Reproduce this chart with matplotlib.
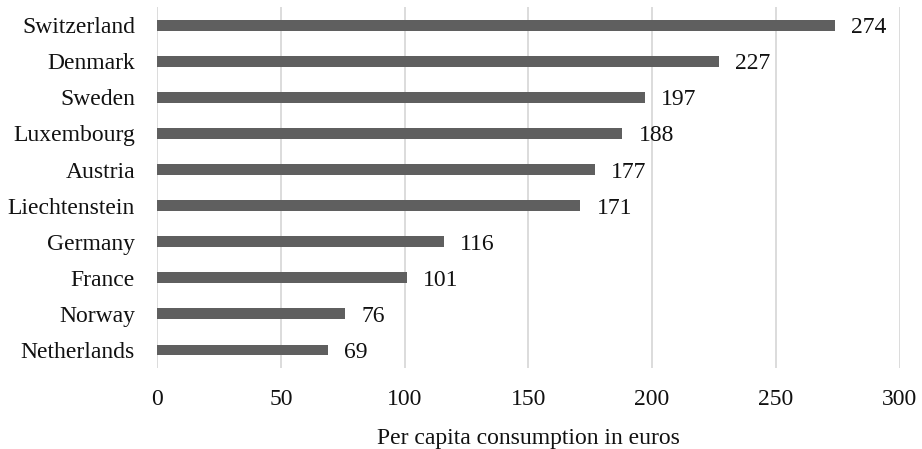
import matplotlib
matplotlib.use("Agg")
import matplotlib.pyplot as plt

countries = ["Switzerland", "Denmark", "Sweden", "Luxembourg", "Austria",
             "Liechtenstein", "Germany", "France", "Norway", "Netherlands"]
consumption = [274, 227, 197, 188, 177, 171, 116, 101, 76, 69]
x_ticks = [0, 50, 100, 150, 200, 250, 300]

plt.rcParams["font.family"] = ["Liberation Serif", "DejaVu Serif"]
FS = 17

fig = plt.figure(figsize=(9.22, 4.49), dpi=100)
ax = fig.add_axes([0.1706, 0.1804, 0.805, 0.8036])

pos = list(range(len(countries)))
ax.barh(pos, consumption, height=0.3, color="#5f5f5f", zorder=3)

for y, v in zip(pos, consumption):
    ax.text(v + 6.5, y, f"{v}", va="center_baseline", ha="left", fontsize=FS,
            color="#111111")

ax.set_ylim(len(countries) - 0.5, -0.5)
ax.set_xlim(0, 300)
ax.set_yticks(pos)
ax.set_yticklabels(countries, fontsize=FS)
ax.set_xticks(x_ticks)
ax.set_xticklabels([str(t) for t in x_ticks], fontsize=FS)
ax.tick_params(axis="both", length=0, colors="#111111")
ax.tick_params(axis="y", pad=16)
ax.tick_params(axis="x", pad=15)

ax.xaxis.grid(True, color="#d9d9d9", linewidth=1.3, zorder=0)
ax.yaxis.grid(False)
for s in ax.spines.values():
    s.set_visible(False)

ax.set_xlabel("Per capita consumption in euros", fontsize=FS, labelpad=13,
              color="#111111")

fig.savefig("out.png", dpi=100)
